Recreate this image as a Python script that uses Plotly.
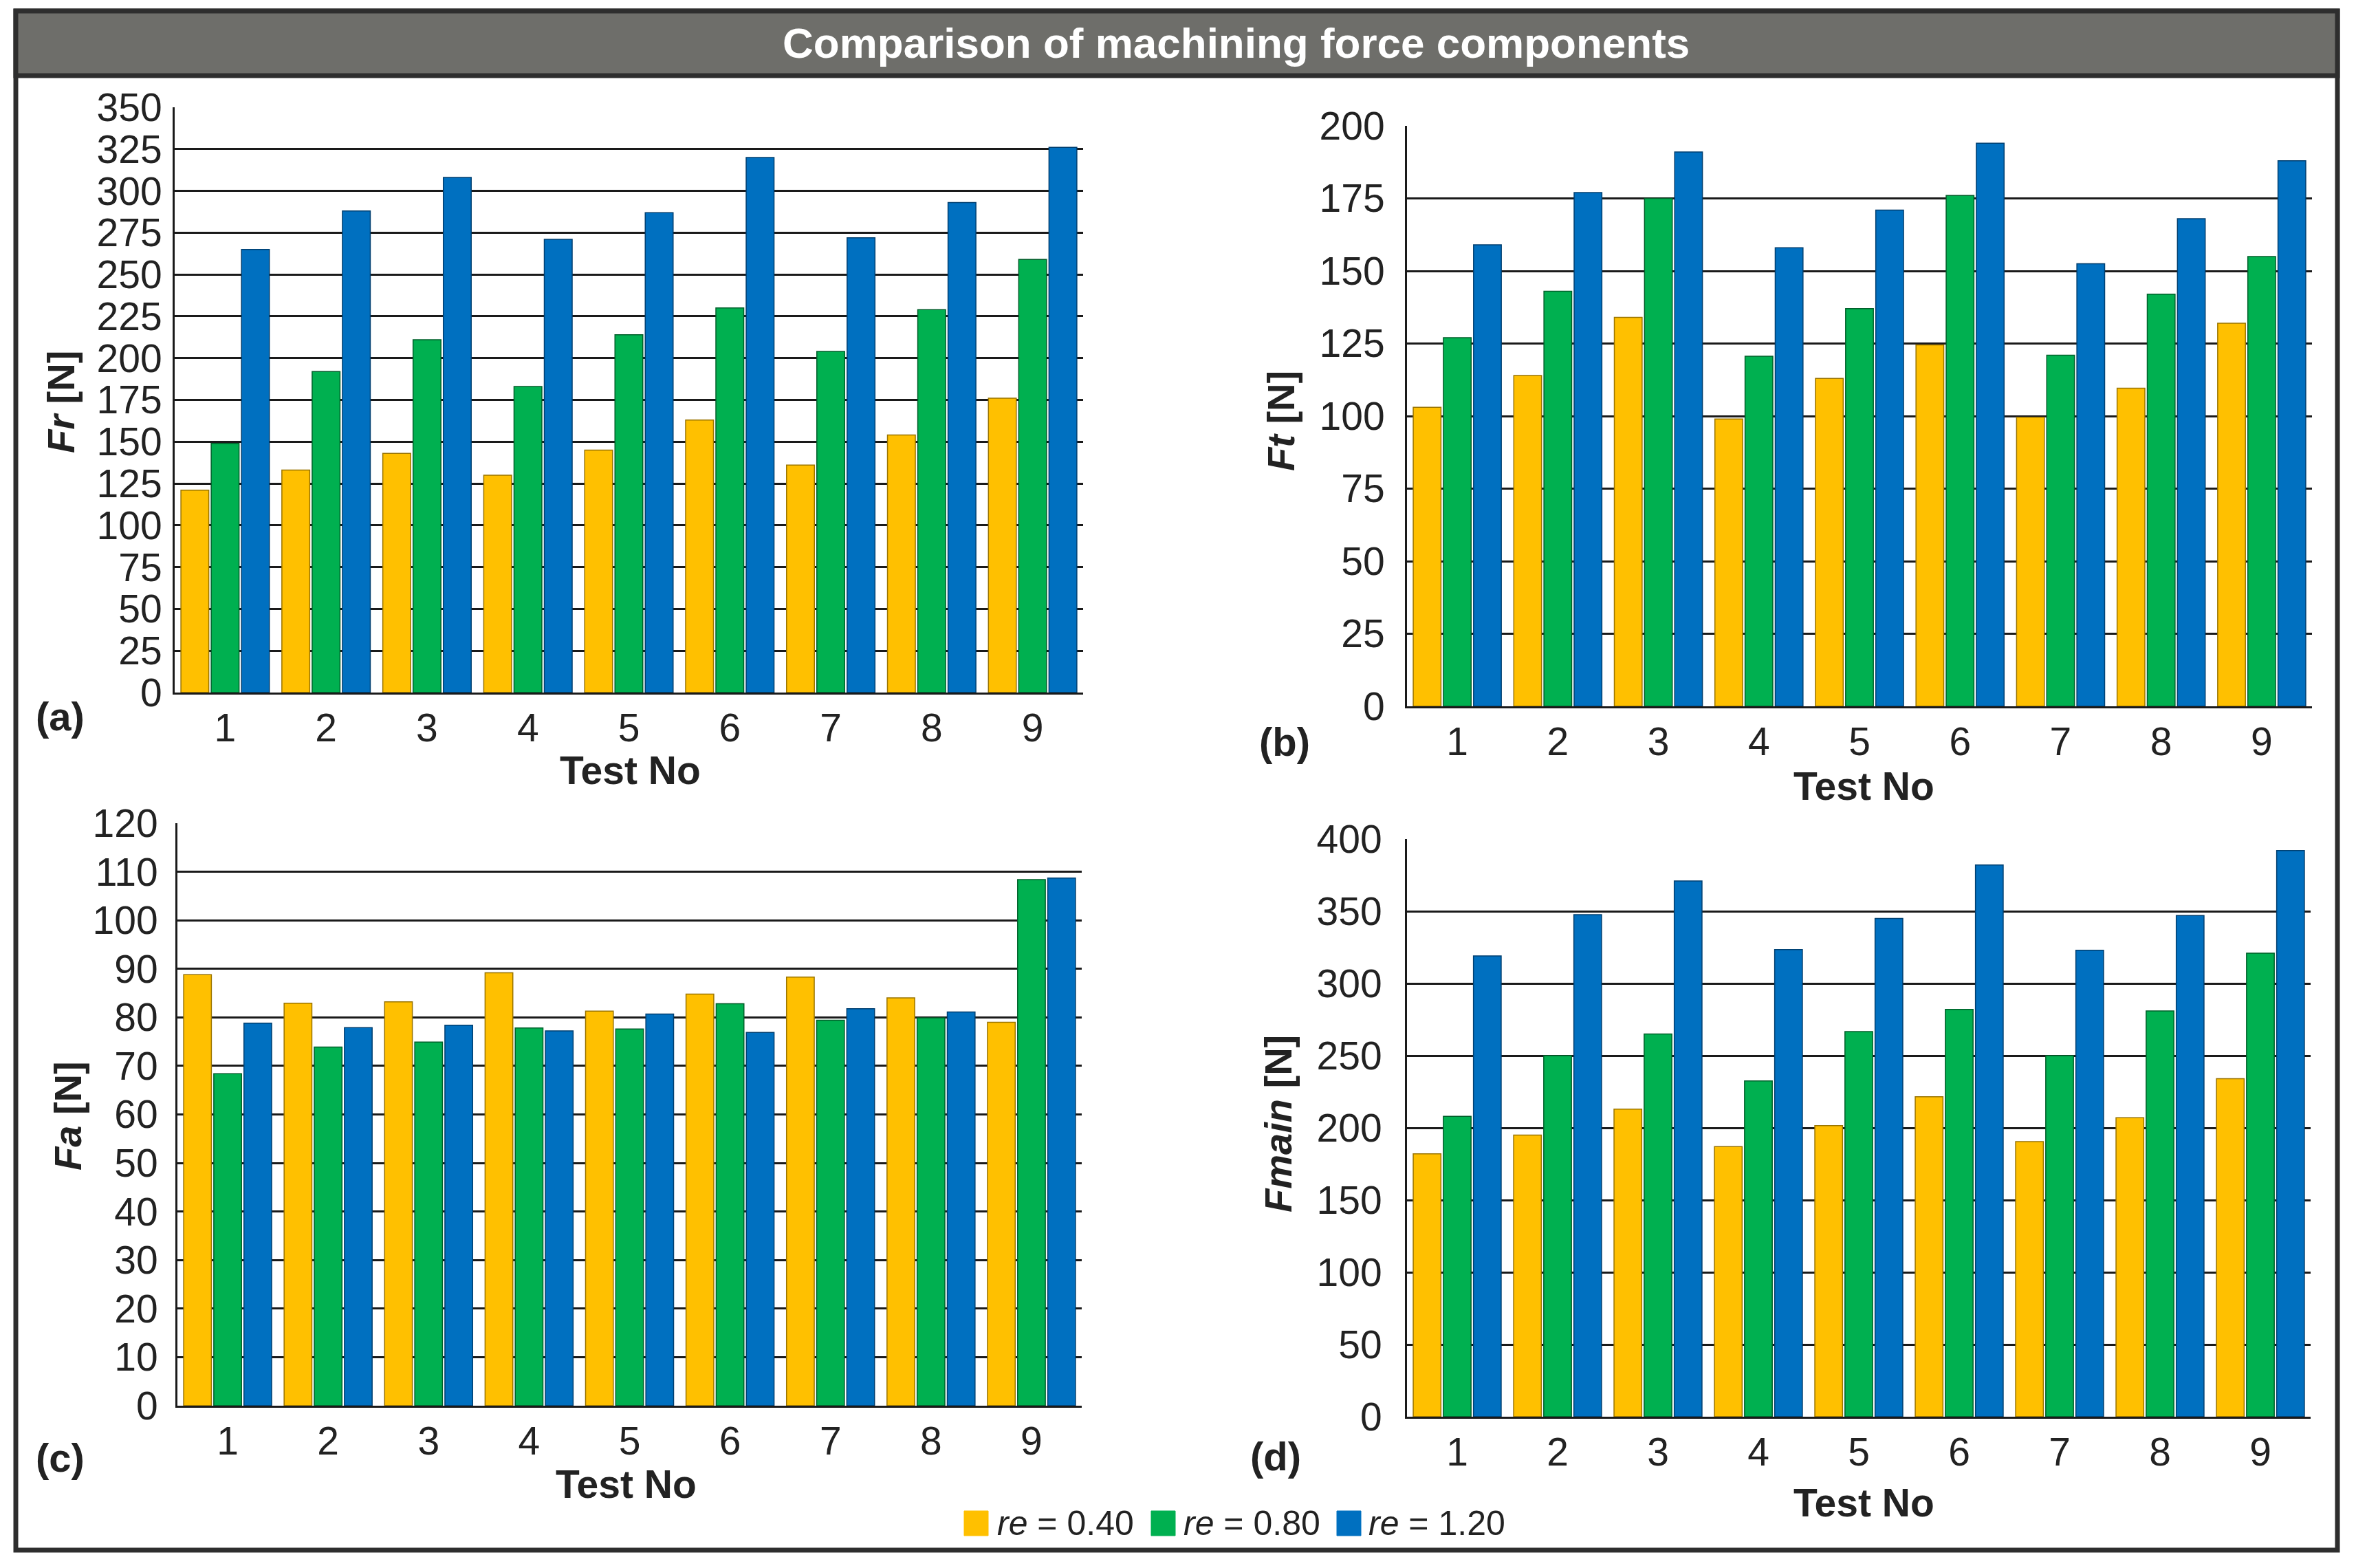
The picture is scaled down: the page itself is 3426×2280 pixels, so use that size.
import plotly.graph_objects as go

tests = ["1", "2", "3", "4", "5", "6", "7", "8", "9"]
series_names = ["<i>re</i> = 0.40", "<i>re</i> = 0.80", "<i>re</i> = 1.20"]
colors = ["#FFC000", "#00B050", "#0070C0"]
outline = ["#9A7400", "#005F2A", "#003F70"]

fr_040 = [121, 133, 143, 130, 145, 163, 136, 154, 176]
fr_080 = [149, 192, 211, 183, 214, 230, 204, 229, 259]
fr_120 = [265, 288, 308, 271, 287, 320, 272, 293, 326]

ft_040 = [103, 114, 134, 99, 113, 124.5, 99.6, 109.6, 132]
ft_080 = [127, 143, 175, 120.6, 137, 176, 121, 142, 155]
ft_120 = [159, 177, 191, 158, 171, 194, 152.5, 168, 188]

fa_040 = [88.8, 82.9, 83.2, 89.2, 81.3, 84.8, 88.3, 84.0, 79.0]
fa_080 = [68.4, 73.9, 74.9, 77.8, 77.6, 82.8, 79.4, 79.9, 108.4]
fa_120 = [78.8, 77.9, 78.4, 77.2, 80.7, 76.9, 81.8, 81.1, 108.7]

fm_040 = [182, 195, 213, 187, 201.5, 221.5, 190.5, 207, 234]
fm_080 = [208, 250, 265, 232.5, 266.7, 282, 250, 281, 321]
fm_120 = [319, 347.6, 371, 323.5, 345, 382, 323, 347, 392]

panels = [
    dict(data=[fr_040, fr_080, fr_120], ymax=350, dtick=25, standoff=4),
    dict(data=[ft_040, ft_080, ft_120], ymax=200, dtick=25, standoff=18),
    dict(data=[fa_040, fa_080, fa_120], ymax=120, dtick=10, standoff=14),
    dict(data=[fm_040, fm_080, fm_120], ymax=400, dtick=50, standoff=22),
]

# the page body has an 8 px margin, so the figure is drawn 8 px in from the corner
OFF = 8
W, H = 3426 - 2 * OFF, 2280 - 2 * OFF
FONT = "Liberation Sans, Arial, Helvetica, sans-serif"


def px(v):
    return (v - OFF) / W


def py(v):
    return 1 - (v - OFF) / H


# plot areas in page pixels: (left, right, top, bottom)
boxes = [(254, 1575, 156, 1007), (2046, 3362, 183, 1027),
         (258, 1573, 1197, 2044), (2046, 3360, 1220, 2060)]

fig = go.Figure()
layout = dict(
    width=W, height=H,
    margin=dict(l=0, r=0, t=0, b=0, autoexpand=False),
    paper_bgcolor="white", plot_bgcolor="white",
    barmode="group", bargap=0.1, bargroupgap=0.08,
    font=dict(family=FONT, size=56, color="#222222"),
    showlegend=False,
)

for i, p in enumerate(panels):
    n = "" if i == 0 else str(i + 1)
    l, r, t, b = boxes[i]
    for k in range(3):
        fig.add_trace(go.Bar(
            x=tests, y=p["data"][k], name=series_names[k],
            marker=dict(color=colors[k], line=dict(color=outline[k], width=1.5)),
            xaxis="x" + n, yaxis="y" + n,
            legendgroup=str(k), showlegend=False,
        ))
    layout["xaxis" + n] = dict(
        domain=[px(l), px(r)], anchor="y" + n, type="category",
        showline=True, linecolor="#1a1a1a", linewidth=3, automargin=False,
        showgrid=False, ticks="",
        tickfont=dict(size=57, color="#222222"), fixedrange=True,
    )
    layout["yaxis" + n] = dict(
        domain=[py(b), py(t)], anchor="x" + n, range=[0, p["ymax"]], dtick=p["dtick"],
        showline=True, linecolor="#1a1a1a", linewidth=3, automargin=False,
        showgrid=True, gridcolor="#1a1a1a", gridwidth=2.7, zeroline=False,
        ticks="", ticklabelstandoff=p["standoff"],
        tickfont=dict(size=57, color="#222222"), fixedrange=True,
    )

fig.update_layout(**layout)

shapes = [
    # outer frame
    dict(type="rect", xref="paper", yref="paper", x0=px(23), x1=px(3399),
         y0=py(2254), y1=py(16), line=dict(color="#2e2e2e", width=7),
         fillcolor="rgba(0,0,0,0)", layer="below"),
    # title bar
    dict(type="rect", xref="paper", yref="paper", x0=px(23), x1=px(3399),
         y0=py(110), y1=py(16), line=dict(color="#2e2e2e", width=7),
         fillcolor="#6E6E6A", layer="below"),
]

ann = []


def add_text(text, x, y, size, color="#222222", angle=0, xanchor="center"):
    ann.append(dict(text=text, x=px(x), y=py(y), xref="paper", yref="paper",
                    xanchor=xanchor, yanchor="middle", textangle=angle,
                    showarrow=False, font=dict(size=size, color=color, family=FONT)))


add_text("<b>Comparison of machining force components</b>", 1797, 63, 62, color="white")

for t, x, y in [("(a)", 87, 1041), ("(b)", 1868, 1078), ("(c)", 87, 2119), ("(d)", 1855, 2117)]:
    add_text("<b>" + t + "</b>", x, y, 58)

for t, x, y in [("<b><i>Fr</i> [N]</b>", 88, 585), ("<b><i>Ft</i> [N]</b>", 1862, 612),
                ("<b><i>Fa</i> [N]</b>", 98, 1623), ("<b><i>Fmain</i> [N]</b>", 1858, 1634)]:
    add_text(t, x, y, 56, angle=-90)

for x, y in [(916, 1120), (2710, 1143), (910, 2158), (2710, 2185)]:
    add_text("<b>Test No</b>", x, y, 57)

# legend: swatches + labels
legend_swatch_x = [1402, 1674, 1944]
legend_text_x = [1448, 1719, 1988]
for k in range(3):
    shapes.append(dict(type="rect", xref="paper", yref="paper",
                       x0=px(legend_swatch_x[k]), x1=px(legend_swatch_x[k] + 35),
                       y0=py(2233), y1=py(2197), fillcolor=colors[k],
                       line=dict(color=colors[k], width=1)))
    add_text(series_names[k], legend_text_x[k], 2215, 50, xanchor="left")

fig.update_layout(shapes=shapes, annotations=ann)
fig.write_html("out.html")
